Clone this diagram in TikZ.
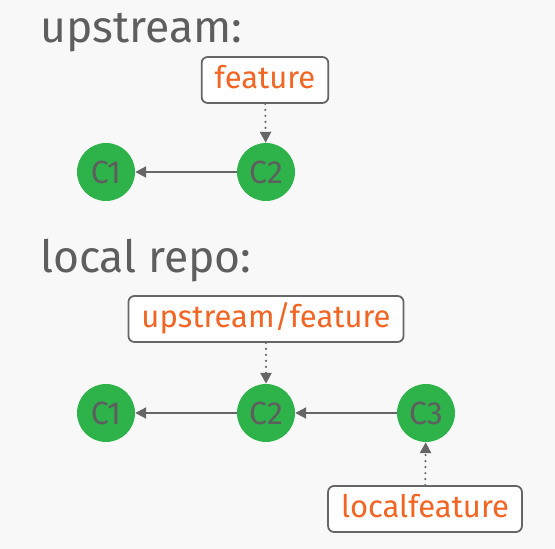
\documentclass[tikz,border=0pt]{standalone}
\usepackage{fontspec}
\setmainfont{Fira Sans}
\usetikzlibrary{arrows.meta}
\definecolor{bg}{HTML}{F8F8F8}
\definecolor{cgreen}{HTML}{2DB34A}
\definecolor{cgray}{HTML}{666666}
\definecolor{tgray}{HTML}{5E5E5E}
\definecolor{corange}{HTML}{F26522}
\tikzset{
  commit/.style={circle, fill=cgreen, minimum size=58pt, inner sep=0pt, text=tgray, font=\fontsize{32}{34}\selectfont},
  branch/.style={draw=cgray, line width=1.8pt, rounded corners=6pt, fill=white, text=corange, font=\fontsize{31}{33}\selectfont, minimum height=46pt, inner xsep=13pt, text height=23pt, text depth=6pt},
  title/.style={anchor=base west, text=tgray, font=\fontsize{44.5}{46}\selectfont, inner sep=0pt},
  parent/.style={draw=cgray, line width=2pt, -{Triangle[length=11pt,width=11pt]}},
  ref/.style={draw=cgray, line width=2.4pt, dash pattern=on 0pt off 6pt, line cap=round, -{Triangle[length=11pt,width=11pt,line cap=butt]}}
}
\begin{document}
\begin{tikzpicture}[x=1pt,y=1pt]
\fill[bg] (0,0) rectangle (555,549);
\useasboundingbox (0,0) rectangle (555,549);
% upstream
\node[title] (t1) at (40,506) {upstream:};
\node[branch] (uf) at (265,469) {feature};
\node[commit] (u1) at (106,377) {C1};
\node[commit] (u2) at (266,377) {C2};
\draw[parent] (u2) -- (u1);
\draw[ref] (uf) -- (u2);
% local
\node[title] (t2) at (40,276) {local repo:};
\node[branch] (luf) at (266,230) {upstream/feature};
\node[commit] (l1) at (106,136) {C1};
\node[commit] (l2) at (266,136) {C2};
\node[commit] (l3) at (426,136) {C3};
\node[branch] (lf) at (425,40) {localfeature};
\draw[parent] (l2) -- (l1);
\draw[parent] (l3) -- (l2);
\draw[ref] (luf) -- (l2);
\draw[ref] (lf) -- (l3);
\end{tikzpicture}
\end{document}
